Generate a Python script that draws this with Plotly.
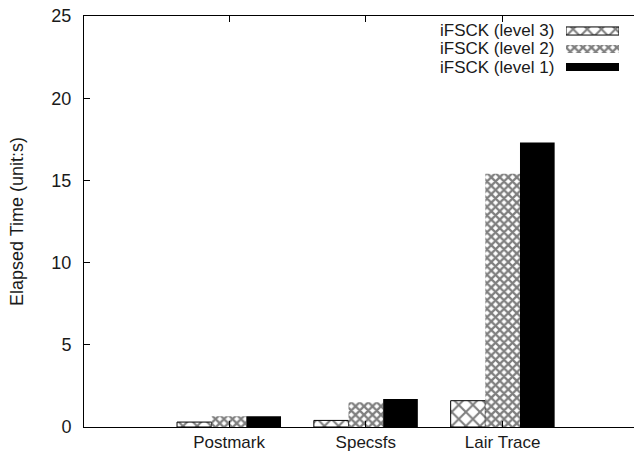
import plotly.graph_objects as go

# Benchmark workloads and elapsed times (seconds) per iFSCK level
workloads = ["Postmark", "Specsfs", "Lair Trace"]
level3_times = [0.3, 0.4, 1.6]
level2_times = [0.65, 1.5, 15.4]
level1_times = [0.65, 1.7, 17.3]

series_names = ["iFSCK (level 3)", "iFSCK (level 2)", "iFSCK (level 1)"]
y_ticks = [0, 5, 10, 15, 20, 25]

FONT = "Liberation Sans, Arial, Helvetica, sans-serif"
TEXT = "#1a1a1a"

# fill styles: crosshatch, dense lattice, solid
styles = [
    dict(color="white", pattern=dict(shape="x", fgcolor="black", bgcolor="white",
                                     size=10, solidity=0.38),
         line=dict(color="black", width=1)),
    dict(color="white", pattern=dict(shape="x", fgcolor="black", bgcolor="white",
                                     size=6, solidity=0.62),
         line=dict(color="black", width=0)),
    dict(color="black", line=dict(color="black", width=0)),
]

fig = go.Figure()
for name, vals, st in zip(series_names, [level3_times, level2_times, level1_times], styles):
    fig.add_trace(go.Bar(x=workloads, y=vals, name=name, marker=st,
                         showlegend=False, xaxis="x", yaxis="y"))

# key swatches on a small inset axis, text to their left
key_rows = [2, 1, 0]
for name, row, st in zip(series_names, key_rows, styles):
    fig.add_trace(go.Bar(x=[1], y=[row], base=0, orientation="h", width=0.45,
                         marker=st, showlegend=False, hoverinfo="skip",
                         xaxis="x2", yaxis="y2"))
    fig.add_annotation(text=name, xref="paper", yref="y2", x=(556 - 84) / 550, y=row,
                       xanchor="right", yanchor="middle", showarrow=False,
                       font=dict(family=FONT, size=17, color=TEXT))

fig.update_layout(
    width=634, height=452,
    margin=dict(l=84, r=0, t=16, b=25),
    paper_bgcolor="white", plot_bgcolor="white",
    barmode="group", bargap=0.24, bargroupgap=0,
    font=dict(family=FONT, size=18, color=TEXT),
    xaxis=dict(
        range=[-1.06, 2.96], showline=True, linecolor="black", linewidth=1,
        mirror="ticks", ticks="inside", ticklen=6, tickcolor="black",
        showgrid=False, zeroline=False, tickfont=dict(size=17),
        ticklabelstandoff=0, automargin=False,
    ),
    yaxis=dict(
        range=[0, 25], tickvals=y_ticks, showline=True, linecolor="black", linewidth=1,
        ticks="inside", ticklen=6, tickcolor="black", showgrid=False, zeroline=False,
        ticklabelstandoff=8, tickfont=dict(size=18), automargin=False,
        title=dict(text="Elapsed Time (unit:s)", font=dict(size=18), standoff=23),
    ),
    xaxis2=dict(domain=[(566 - 84) / 550, (619 - 84) / 550], range=[0, 1],
                anchor="y2", visible=False, fixedrange=True),
    yaxis2=dict(domain=[(427 - 76) / 411, (427 - 22) / 411], range=[-0.5, 2.5],
                anchor="x2", visible=False, fixedrange=True),
)

fig.write_html("out.html")
